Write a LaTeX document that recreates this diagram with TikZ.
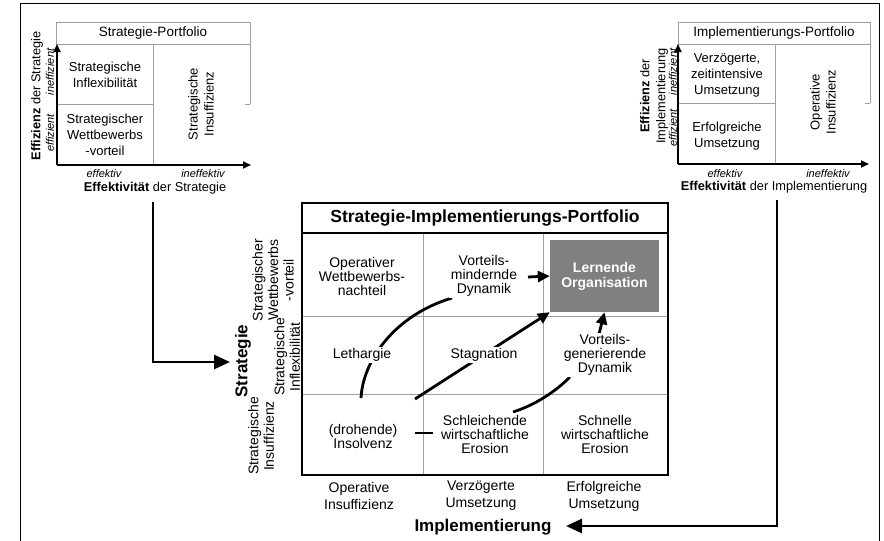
\documentclass[tikz,border=0pt]{standalone}
\usepackage{fontspec}
\setmainfont{Liberation Sans}
\usetikzlibrary{arrows.meta}
\pgfdeclarelayer{back}
\pgfdeclarelayer{bg}
\pgfsetlayers{back,bg,main}
\begin{document}
\begin{tikzpicture}[x=1pt,y=-1pt,
  gridline/.style={draw=black!38, line width=0.9pt},
  titlebox/.style={draw=black!38, line width=0.9pt, minimum height=22pt, inner sep=0pt, font=\fontsize{13.5}{16}\selectfont},
  axisarrow/.style={line width=1.8pt, -{Triangle[length=8pt,width=7pt]}},
  bigarrow/.style={line width=2.8pt, -{Triangle[length=16pt,width=14pt]}},
  flow/.style={line width=2.8pt, -{Triangle[length=12pt,width=11pt]}},
  flowline/.style={line width=2.8pt},
  celltxt/.style={align=center, font=\fontsize{13}{16}\selectfont, inner sep=1pt},
  ital/.style={font=\fontsize{11}{13}\selectfont\itshape, inner sep=0pt},
  axlbl/.style={align=center, font=\fontsize{12.8}{16}\selectfont, inner sep=0pt},
  maincell/.style={align=center, font=\fontsize{14}{14}\selectfont, fill=white, inner sep=1.5pt},
  rowlbl/.style={align=center, font=\fontsize{14}{15.5}\selectfont, inner sep=0pt, rotate=90},
  collbl/.style={align=center, font=\fontsize{14}{17}\selectfont, inner sep=0pt},
  biglbl/.style={font=\fontsize{17}{20}\selectfont\bfseries, inner sep=0pt}
]
\useasboundingbox (0,0) rectangle (884,541);
\begin{pgfonlayer}{back}
\fill[white] (0,0) rectangle (884,541);
\end{pgfonlayer}
% outer frame
\draw[line width=0.9pt] (20,560) -- (20,3) -- (879,3) -- (879,560);

% ---------- Strategie-Portfolio ----------
\node[titlebox, minimum width=194pt] (sptitle) at (153,33) {Strategie-Portfolio};
\coordinate (spo) at (57,165);
\coordinate (spyt) at (57,44);
\coordinate (spxt) at (251,165);
\draw[gridline] (153,44) -- (153,165);
\draw[gridline] (57,104) -- (153,104);
\draw[gridline] (245,104) -- (250,104);
\draw[gridline] (250,44) -- (250,104);
\draw[axisarrow] (spo) -- (spyt);
\draw[axisarrow] (spo) -- (spxt);
\node[celltxt] (sp11) at (105,75) {Strategische\\Inflexibilität};
\node[celltxt] (sp21) at (105,135) {Strategischer\\Wettbewerbs\\-vorteil};
\node[celltxt, rotate=90] (sp2) at (201,104) {Strategische\\Insuffizienz};
\node[ital, rotate=90] (spin) at (50,72) {ineffizient};
\node[ital, rotate=90] (spef) at (50,133) {effizient};
\node[axlbl, rotate=90] (spy) at (37,96) {\textbf{Effizienz} der Strategie};
\node[ital] (spxe) at (104,174) {effektiv};
\node[ital] (spxi) at (203,174) {ineffektiv};
\node[axlbl] (spx) at (155,188) {\textbf{Effektivität} der Strategie};

% ---------- Implementierungs-Portfolio ----------
\node[titlebox, minimum width=192pt] (iptitle) at (774,33) {Implementierungs-Portfolio};
\coordinate (ipo) at (678,164);
\coordinate (ipyt) at (678,44);
\coordinate (ipxt) at (869,164);
\draw[gridline] (775,44) -- (775,164);
\draw[gridline] (678,103) -- (775,103);
\draw[gridline] (865,103) -- (870,103);
\draw[gridline] (870,44) -- (870,103);
\draw[axisarrow] (ipo) -- (ipyt);
\draw[axisarrow] (ipo) -- (ipxt);
\node[celltxt] (ip11) at (727,75) {Verzögerte,\\zeitintensive\\Umsetzung};
\node[celltxt] (ip21) at (727,136) {Erfolgreiche\\Umsetzung};
\node[celltxt, rotate=90] (ip2) at (823,102) {Operative\\Insuffizienz};
\node[ital, rotate=90] (ipin) at (673,72) {ineffizient};
\node[ital, rotate=90] (ipef) at (673,128) {effizient};
\node[axlbl, rotate=90] (ipy) at (654,96) {\textbf{Effizienz} der\\Implementierung};
\node[ital] (ipxe) at (725,174) {effektiv};
\node[ital] (ipxi) at (828,174) {ineffektiv};
\node[axlbl] (ipx) at (774,187) {\textbf{Effektivität} der Implementierung};

% ---------- Strategie-Implementierungs-Portfolio ----------
\draw[line width=1.8pt] (302,203) rectangle (668,475);
\draw[line width=1.5pt] (302,233) -- (668,233);
\node[font=\fontsize{17.5}{20}\selectfont\bfseries, inner sep=0pt] (mtitle) at (485,218) {Strategie-Implementierungs-Portfolio};
\begin{pgfonlayer}{bg}
\draw[gridline] (423,234) -- (423,474);
\draw[gridline] (543,234) -- (543,474);
\draw[gridline] (303,316) -- (667,316);
\draw[gridline] (303,394) -- (667,394);
\end{pgfonlayer}

\node[maincell] (c11) at (362,276) {Operativer\\Wettbewerbs-\\nachteil};
\node[maincell] (c12) at (484,276) {Vorteils-\\mindernde\\Dynamik};
\node[fill=black!50, text=white, minimum width=109pt, minimum height=72pt, inner sep=0pt, align=center, font=\fontsize{14}{15}\selectfont\bfseries] (lo) at (604.5,276) {Lernende\\Organisation};
\node[maincell] (c21) at (362,355) {Lethargie};
\node[maincell] (c22) at (484,355) {Stagnation};
\node[maincell] (c23) at (605,355) {Vorteils-\\generierende\\Dynamik};
\node[maincell] (c31) at (363,436) {(drohende)\\Insolvenz};
\node[maincell] (c32) at (485,434) {Schleichende\\wirtschaftliche\\Erosion};
\node[maincell] (c33) at (605,434) {Schnelle\\wirtschaftliche\\Erosion};

\node[rowlbl] (r1) at (273,280) {Strategischer\\Wettbewerbs\\-vorteil};
\node[rowlbl] (r2) at (287,357) {Strategische\\Inflexibilität};
\node[rowlbl] (r3) at (261,436) {Strategische\\Insuffizienz};
\node[biglbl, rotate=90] (strat) at (243,361) {Strategie};

\node[collbl] (k1) at (359,496) {Operative\\Insuffizienz};
\node[collbl] (k2) at (481,496) {Verzögerte\\Umsetzung};
\node[collbl] (k3) at (604,496) {Erfolgreiche\\Umsetzung};
\node[biglbl] (impl) at (483,527) {Implementierung};

% ---------- connectors ----------
\coordinate (la1) at (153,202);
\coordinate (la2) at (230,362);
\draw[bigarrow] (la1) |- (la2);
\coordinate (ra1) at (777,200);
\coordinate (ra2) at (566,526);
\draw[bigarrow] (ra1) |- (ra2);

\begin{pgfonlayer}{bg}
\coordinate (f1a) at (361,398);
\coordinate (f1b) at (452,298);
\draw[flowline] (f1a) .. controls (363,360) and (395,315) .. (f1b);
\coordinate (f2a) at (415,399);
\draw[flow] (f2a) -- (lo.south west);
\coordinate (f3a) at (513,412);
\coordinate (f3b) at (570,377);
\draw[flowline] (f3a) .. controls (535,405) and (555,392) .. (f3b);
\coordinate (f4a) at (599,334);
\draw[flow] (f4a) -- (lo.south);
\coordinate (f5a) at (528,277);
\draw[flow] (f5a) -- (lo.west);
\coordinate (f6a) at (415,433);
\coordinate (f6b) at (433,433);
\draw[flowline] (f6a) -- (f6b);
\end{pgfonlayer}
\end{tikzpicture}
\end{document}
